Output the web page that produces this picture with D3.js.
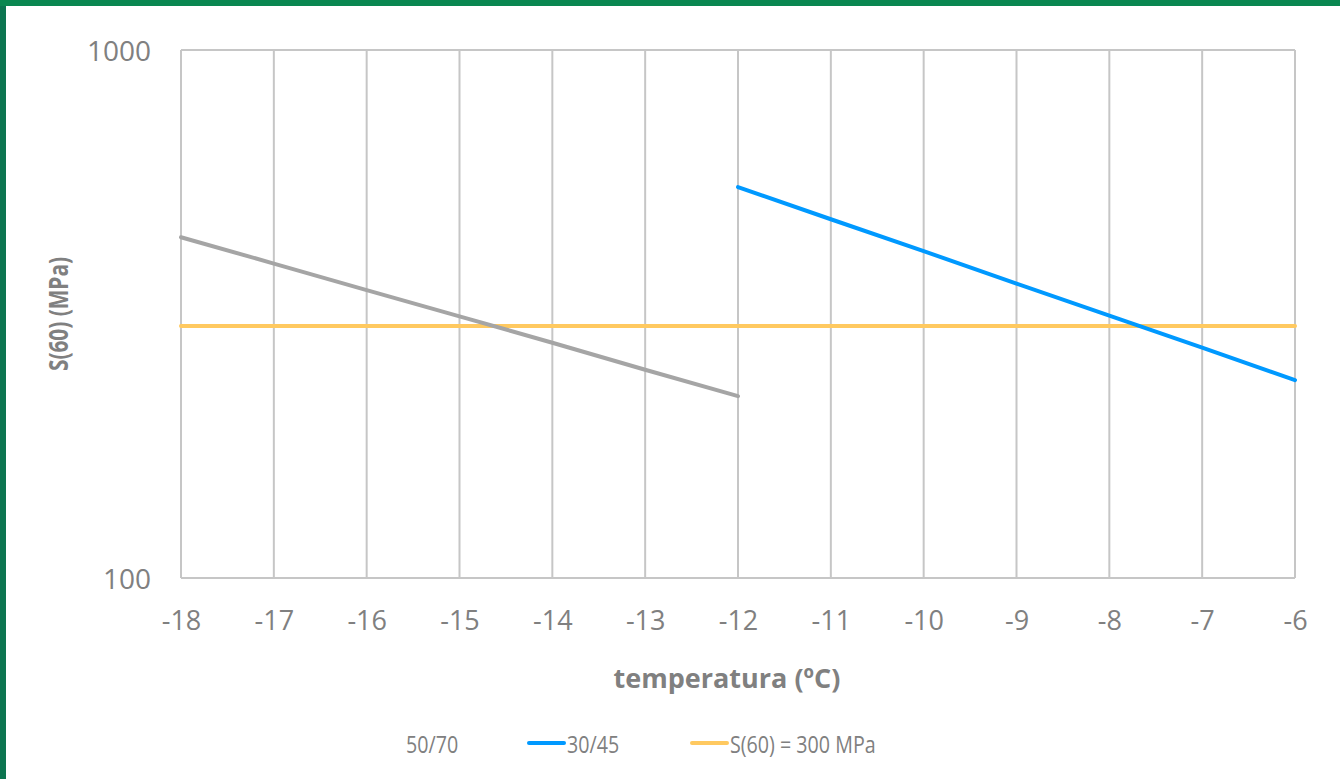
<!DOCTYPE html>
<html>
<head>
<meta charset="utf-8">
<script src="https://cdn.jsdelivr.net/npm/d3@7"></script>
<style>
  html, body { margin: 0; padding: 0; background: #fff; }
  svg { display: block; font-family: "Open Sans", "Noto Sans", sans-serif; }
</style>
</head>
<body>
<svg id="chart" width="1340" height="779"></svg>
<script>
// Temperature steps (ºC)
const temps5070 = [-18, -17, -16, -15, -14, -13, -12];
const temps3045 = [-12, -11, -10, -9, -8, -7, -6];
// Stiffness S(60) in MPa
const s5070 = [442, 394, 351, 313, 279, 248, 221];
const s3045 = [550, 478, 416, 361, 314, 273, 237];
const limitTemps = [-18, -6];
const limitValues = [300, 300];
const xTicks = [-18, -17, -16, -15, -14, -13, -12, -11, -10, -9, -8, -7, -6];
const yTicks = [100, 1000];
const seriesNames = ["50/70", "30/45", "S(60) = 300 MPa"];
const seriesColors = ["#a5a5a5", "#0099ff", "#ffc960"];

const svg = d3.select("#chart");
const W = 1340, H = 779;
const m = { left: 181, right: 1295, top: 50, bottom: 578 };

// frame
svg.append("rect").attr("x", 0).attr("y", 0).attr("width", W).attr("height", H).attr("fill", "#fff");
svg.append("rect").attr("x", 0).attr("y", 0).attr("width", 6).attr("height", H).attr("fill", "#0c7550");
svg.append("rect").attr("x", 0).attr("y", 0).attr("width", W).attr("height", 6).attr("fill", "#0a8750");

const x = d3.scaleLinear().domain([-18, -6]).range([m.left, m.right]);
const y = d3.scaleLog().domain([100, 1000]).range([m.bottom, m.top]);

const textCol = "#808080";
const gridCol = "#c6c6c6";

// vertical gridlines
svg.append("g").selectAll("line").data(xTicks).join("line")
  .attr("x1", d => x(d)).attr("x2", d => x(d))
  .attr("y1", m.top).attr("y2", m.bottom)
  .attr("stroke", gridCol).attr("stroke-width", 2);
// horizontal gridlines
svg.append("g").selectAll("line").data(yTicks).join("line")
  .attr("x1", m.left).attr("x2", m.right)
  .attr("y1", d => y(d)).attr("y2", d => y(d))
  .attr("stroke", gridCol).attr("stroke-width", 2);

// x axis labels (plain hyphen for negatives)
const xAxis = d3.axisBottom(x).tickValues(xTicks).tickSize(0).tickPadding(0).tickFormat(d => String(d));
const gx = svg.append("g").attr("transform", `translate(0,${m.bottom})`).call(xAxis);
gx.select(".domain").remove();
gx.selectAll("text").attr("dy", null).attr("y", 52).attr("fill", textCol)
  .style("font-size", "27px").style("font-family", "'Open Sans', sans-serif");

// y axis labels
const yAxis = d3.axisLeft(y).tickValues(yTicks).tickSize(0).tickPadding(0).tickFormat(d => String(d));
const gy = svg.append("g").attr("transform", `translate(${m.left},0)`).call(yAxis);
gy.select(".domain").remove();
gy.selectAll("text").attr("x", -30).attr("dy", "0.36em").attr("fill", textCol)
  .style("font-size", "28px").style("font-family", "'Open Sans', sans-serif");

// axis titles
svg.append("text").attr("x", 727).attr("y", 688)
  .attr("text-anchor", "middle").attr("fill", textCol)
  .style("font-size", "27px").style("font-weight", "bold").text("temperatura (ºC)");
svg.append("text").attr("transform", `translate(59,314) rotate(-90) scale(0.8,1)`)
  .attr("text-anchor", "middle").attr("dy", "0.36em").attr("fill", textCol)
  .style("font-size", "26px").style("font-weight", "bold").text("S(60) (MPa)");

// series
const line = d3.line().x(d => x(d[0])).y(d => y(d[1]));
const series = [
  { pts: d3.zip(limitTemps, limitValues), color: seriesColors[2] },
  { pts: d3.zip(temps5070, s5070), color: seriesColors[0] },
  { pts: d3.zip(temps3045, s3045), color: seriesColors[1] }
];
svg.append("g").selectAll("path").data(series).join("path")
  .attr("d", d => line(d.pts)).attr("fill", "none")
  .attr("stroke", d => d.color)
  .attr("stroke-width", 4).attr("stroke-linecap", "round");

// legend (first entry has no line swatch)
const legend = svg.append("g");
const legendItems = [
  { name: seriesNames[0], color: null, x: 406 },
  { name: seriesNames[1], color: seriesColors[1], x: 529 },
  { name: seriesNames[2], color: seriesColors[2], x: 692 }
];
legendItems.forEach(it => {
  let tx = it.x;
  if (it.color) {
    legend.append("line").attr("x1", it.x).attr("x2", it.x + 35)
      .attr("y1", 743).attr("y2", 743)
      .attr("stroke", it.color).attr("stroke-width", 4).attr("stroke-linecap", "round");
    tx = it.x + 38;
  }
  legend.append("text").attr("transform", `translate(${tx},744) scale(0.82,1)`)
    .attr("dy", "0.36em")
    .attr("fill", textCol).style("font-size", "24px").text(it.name);
});
</script>
</body>
</html>
